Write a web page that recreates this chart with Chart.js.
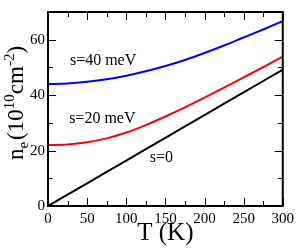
<!DOCTYPE html>
<html>
<head>
<meta charset="utf-8">
<script src="https://cdn.jsdelivr.net/npm/chart.js@4.4.0/dist/chart.umd.min.js"></script>
<style>
  html, body { margin: 0; padding: 0; background: #fff; }
</style>
</head>
<body>
<canvas id="chart" width="298" height="249"></canvas>
<script>
// temperature (K) and carrier density n_e (10^10 cm^-2)
var temps = [0, 25, 50, 75, 100, 125, 150, 175, 200, 225, 250, 275, 300];
var nS0  = [0, 4.1, 8.2, 12.3, 16.4, 20.5, 24.6, 28.7, 32.8, 36.9, 41.0, 45.1, 49.2];
var nS20 = [22.0, 22.2, 23.0, 24.4, 26.5, 29.2, 32.3, 35.6, 39.1, 42.7, 46.4, 50.1, 53.9];
var nS40 = [44.0, 44.2, 44.8, 45.7, 47.0, 48.6, 50.5, 52.7, 55.2, 57.9, 60.8, 63.7, 66.7];

var xTicks = [0, 50, 100, 150, 200, 250, 300];
var yTicks = [0, 20, 40, 60];
var seriesNames = ["s=0", "s=20 meV", "s=40 meV"];

var SERIF = "'Liberation Serif', 'DejaVu Serif', serif";

function pts(ys) {
  return temps.map(function (t, i) { return { x: t, y: ys[i] }; });
}

// frame, inward ticks on all sides, curve labels and axis titles
var decor = {
  id: 'decor',
  afterDraw: function (chart) {
    var ctx = chart.ctx, a = chart.chartArea;
    var sx = chart.scales.x, sy = chart.scales.y;
    ctx.save();
    ctx.strokeStyle = '#000';
    ctx.lineWidth = 1;
    var v, p, len;
    for (v = 0; v <= 300; v += 25) {
      p = Math.round(sx.getPixelForValue(v)) + 0.5;
      len = (v % 50 === 0) ? 8 : 5;
      ctx.beginPath();
      ctx.moveTo(p, a.bottom); ctx.lineTo(p, a.bottom - len);
      ctx.moveTo(p, a.top); ctx.lineTo(p, a.top + len);
      ctx.stroke();
    }
    for (v = 0; v <= 70; v += 10) {
      p = Math.round(sy.getPixelForValue(v)) + 0.5;
      len = (v % 20 === 0) ? 8 : 5;
      ctx.beginPath();
      ctx.moveTo(a.left, p); ctx.lineTo(a.left + len, p);
      ctx.moveTo(a.right, p); ctx.lineTo(a.right - len, p);
      ctx.stroke();
    }
    ctx.lineWidth = 2;
    ctx.strokeRect(a.left, a.top, a.right - a.left, a.bottom - a.top);

    // curve labels
    ctx.fillStyle = '#000';
    ctx.font = '16px ' + SERIF;
    ctx.textAlign = 'left';
    ctx.textBaseline = 'alphabetic';
    ctx.fillText(seriesNames[2], sx.getPixelForValue(28), sy.getPixelForValue(50.7));
    ctx.fillText(seriesNames[1], sx.getPixelForValue(27), sy.getPixelForValue(29.9));
    ctx.fillText(seriesNames[0], sx.getPixelForValue(130), sy.getPixelForValue(15.9));

    // x title
    ctx.font = '25px ' + SERIF;
    ctx.textAlign = 'center';
    ctx.fillText('T (K)', (a.left + a.right) / 2, 240);

    // y title with sub/superscripts
    var parts = [
      { t: 'n', s: 23, dy: 0 },
      { t: 'e', s: 15, dy: 5 },
      { t: '(10', s: 23, dy: 0 },
      { t: '10', s: 15, dy: -9 },
      { t: 'cm', s: 23, dy: 0 },
      { t: '-2', s: 15, dy: -9 },
      { t: ')', s: 23, dy: 0 }
    ];
    var total = 0;
    parts.forEach(function (q) {
      ctx.font = q.s + 'px ' + SERIF;
      q.w = ctx.measureText(q.t).width;
      total += q.w;
    });
    ctx.translate(23, 104);
    ctx.rotate(-Math.PI / 2);
    ctx.textAlign = 'left';
    var cx = -total / 2;
    parts.forEach(function (q) {
      ctx.font = q.s + 'px ' + SERIF;
      ctx.fillText(q.t, cx, q.dy);
      cx += q.w + (q.t === 'e' ? 2 : 0);
    });
    ctx.restore();
  }
};

new Chart(document.getElementById('chart'), {
  type: 'line',
  data: {
    datasets: [
      { label: seriesNames[0], data: pts(nS0), borderColor: '#000000', borderWidth: 2, pointRadius: 0, tension: 0 },
      { label: seriesNames[1], data: pts(nS20), borderColor: '#ff0000', borderWidth: 2, pointRadius: 0, cubicInterpolationMode: 'monotone' },
      { label: seriesNames[2], data: pts(nS40), borderColor: '#0000ff', borderWidth: 2, pointRadius: 0, cubicInterpolationMode: 'monotone' }
    ]
  },
  options: {
    responsive: false,
    devicePixelRatio: 1,
    animation: false,
    layout: { padding: { top: 2, right: 13, left: 0, bottom: 0 } },
    plugins: { legend: { display: false }, tooltip: { enabled: false } },
    scales: {
      x: {
        type: 'linear', min: 0, max: 300,
        grid: { display: false, drawTicks: false },
        border: { display: false },
        afterBuildTicks: function (s) { s.ticks = xTicks.map(function (v) { return { value: v }; }); },
        afterFit: function (s) { s.height = 43; },
        ticks: { color: '#000', padding: 4, maxRotation: 0, autoSkip: false, font: { family: SERIF, size: 15 } }
      },
      y: {
        type: 'linear', min: 0, max: 70,
        grid: { display: false, drawTicks: false },
        border: { display: false },
        afterBuildTicks: function (s) { s.ticks = yTicks.map(function (v) { return { value: v }; }); },
        afterFit: function (s) { s.width = 48; },
        ticks: { color: '#000', padding: 3, font: { family: SERIF, size: 15 } }
      }
    }
  },
  plugins: [decor]
});
</script>
</body>
</html>
